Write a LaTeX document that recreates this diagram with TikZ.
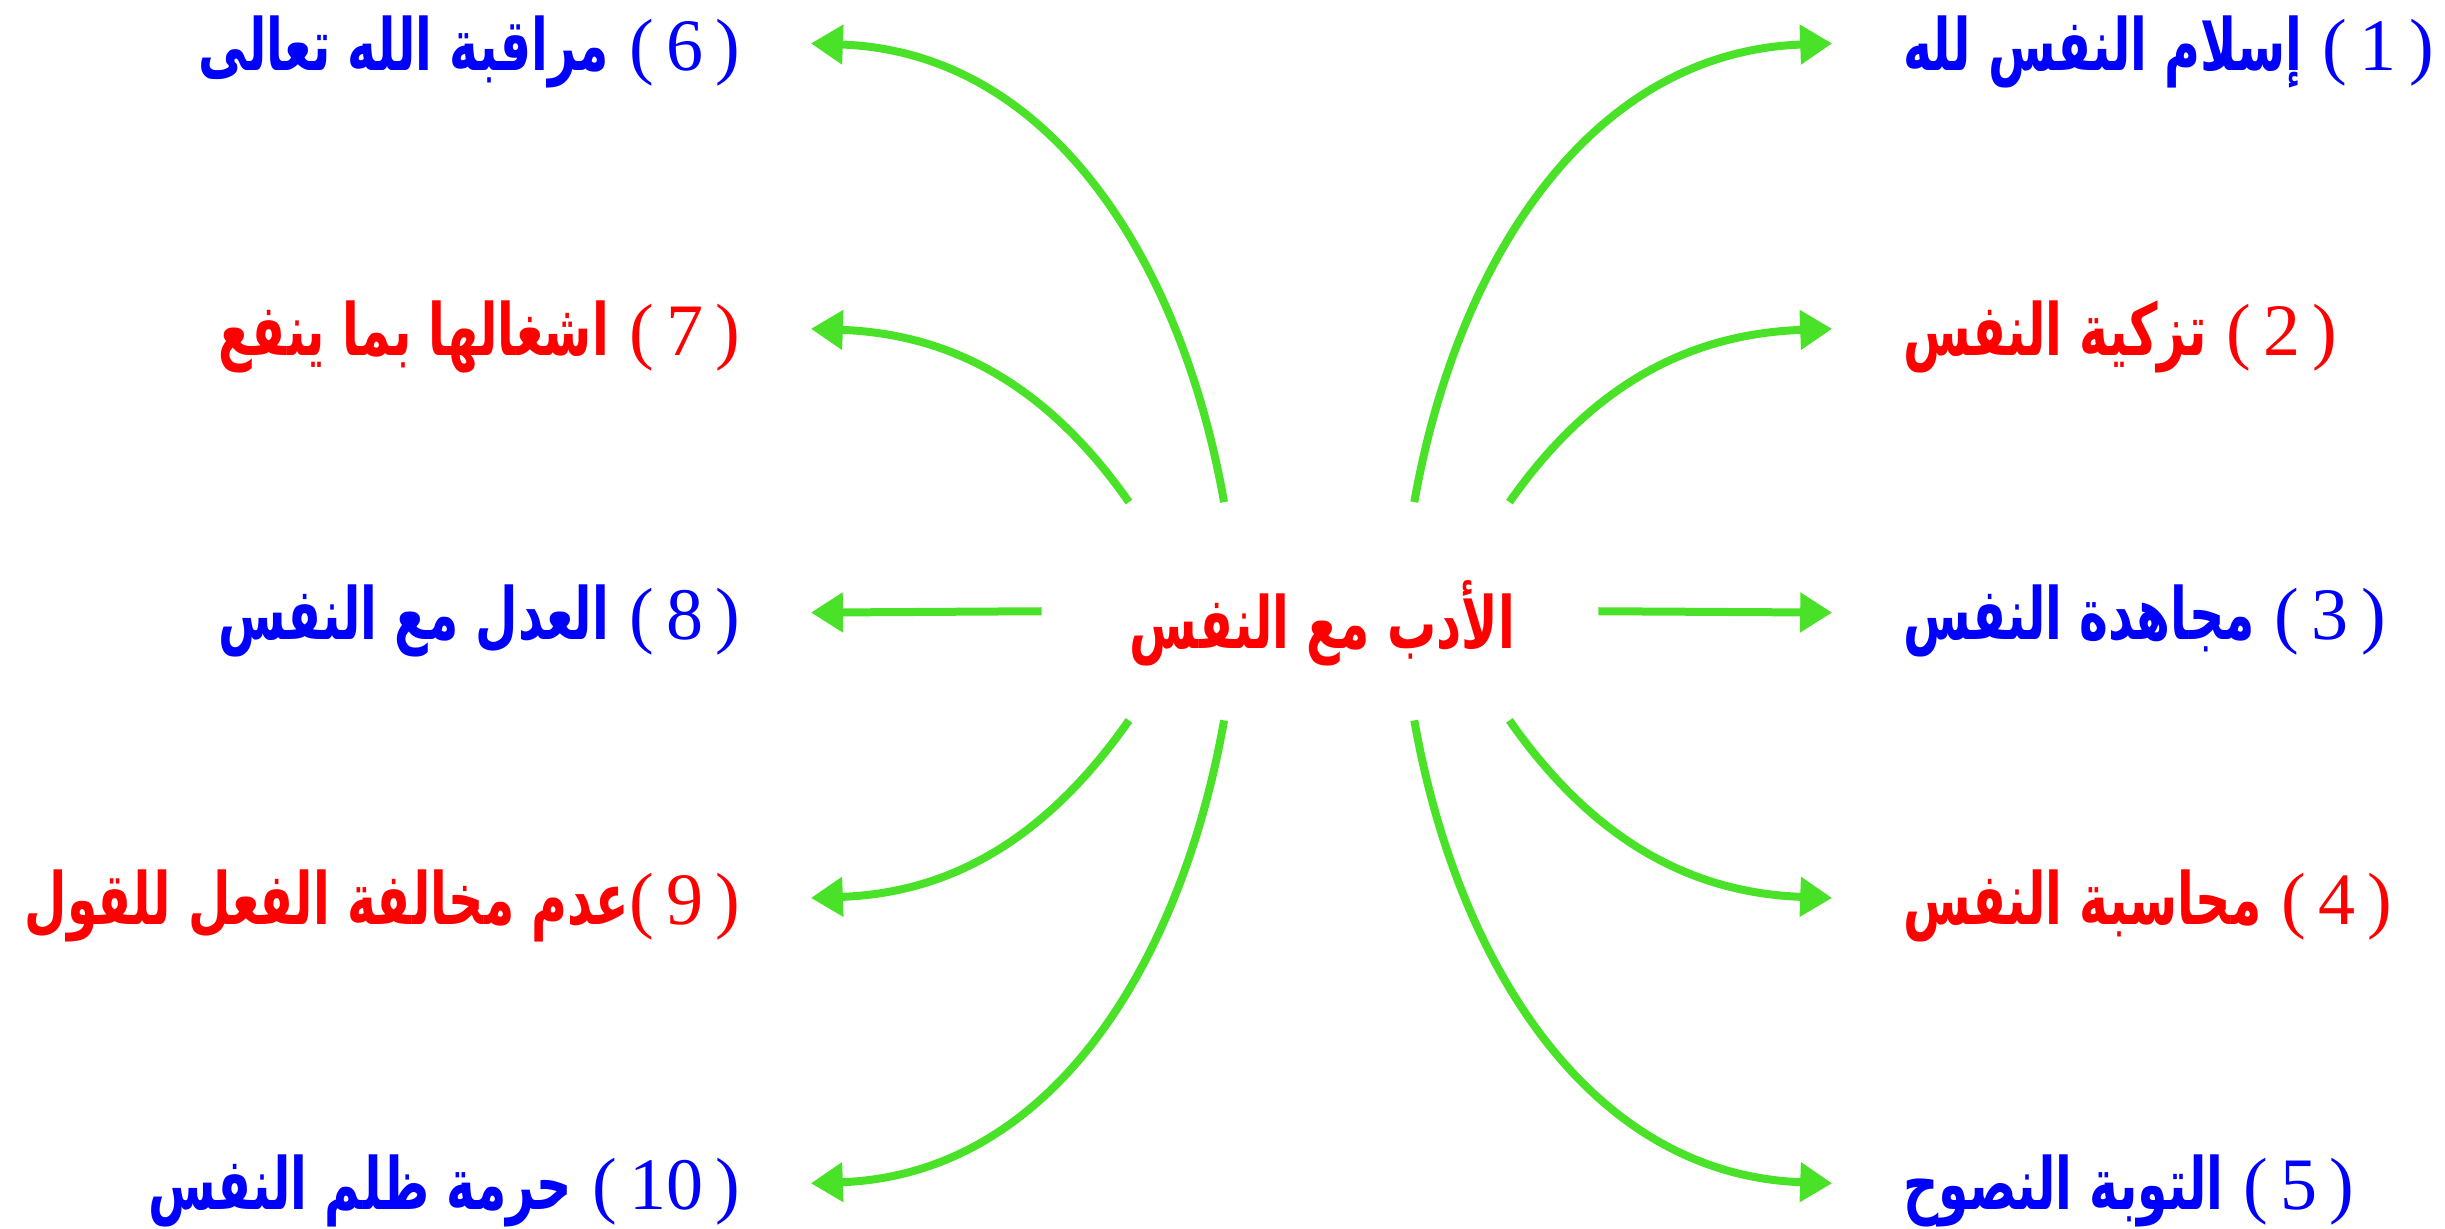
\documentclass[tikz,border=0pt]{standalone}
\usepackage{fontspec}
\usepackage{graphicx}
\usetikzlibrary{arrows.meta}
\TeXXeTstate=1
\newfontfamily\arabicfont[Script=Arabic]{DejaVu Sans}
\newfontfamily\numfont{Liberation Serif}
\definecolor{arrgreen}{RGB}{74,226,40}
\definecolor{lblue}{RGB}{0,0,255}
\definecolor{lred}{RGB}{255,0,0}
\newcommand\arb[1]{\scalebox{0.68}[1]{\arabicfont\bfseries\fontsize{18}{20}\selectfont\beginR #1\endR}}
\newcommand\lnum[1]{{\numfont\fontsize{18.5}{20}\selectfont(\,#1\,)}}
\begin{document}
\begin{tikzpicture}[x=0.38983pt,y=0.38983pt,
  lab/.style={inner xsep=17.5pt,inner ysep=0pt},
  rlab/.style={lab,anchor=west},
  llab/.style={lab,anchor=east},
  arr/.style={draw=arrgreen,line width=2pt,-{Triangle[length=8pt,width=9.5pt]}}]
\useasboundingbox[fill=white] (0,0) rectangle (1568,788);
\node[text=lred,inner sep=0pt] (c) at (848,388) {\arb{الأدب مع النفس}};
% start coordinates
\coordinate (s1) at (907,466);
\coordinate (s2) at (968,466);
\coordinate (s3) at (1025,396);
\coordinate (s4) at (968,326);
\coordinate (s5) at (907,326);
\coordinate (s6) at (785,466);
\coordinate (s7) at (724,466);
\coordinate (s8) at (668,396);
\coordinate (s9) at (724,326);
\coordinate (s10) at (785,326);
% right labels
\node[rlab,text=lblue] (l1) at (1175,755) {\arb{إسلام النفس لله}\hspace{5pt}\lnum{1}};
\node[rlab,text=lred]  (l2) at (1175,572) {\arb{تزكية النفس}\hspace{5pt}\lnum{2}};
\node[rlab,text=lblue] (l3) at (1175,390) {\arb{مجاهدة النفس}\hspace{5pt}\lnum{3}};
\node[rlab,text=lred]  (l4) at (1175,207) {\arb{محاسبة النفس}\hspace{5pt}\lnum{4}};
\node[rlab,text=lblue] (l5) at (1175,24)  {\arb{التوبة النصوح}\hspace{5pt}\lnum{5}};
% left labels
\node[llab,text=lblue] (l6) at (520,755)  {\arb{مراقبة الله تعالى}\hspace{5pt}\lnum{6}};
\node[llab,text=lred]  (l7) at (520,572)  {\arb{اشغالها بما ينفع}\hspace{5pt}\lnum{7}};
\node[llab,text=lblue] (l8) at (520,390)  {\arb{العدل مع النفس}\hspace{5pt}\lnum{8}};
\node[llab,text=lred]  (l9) at (520,207)  {\arb{عدم مخالفة الفعل للقول}\lnum{9}};
\node[llab,text=lblue] (l10) at (520,24)  {\arb{حرمة ظلم النفس}\hspace{5pt}\lnum{10}};
% arrows right
\draw[arr] (s1) to[out=80,in=182] ([yshift=2pt]l1.west);
\draw[arr] (s2) to[out=55,in=182] ([yshift=2pt]l2.west);
\draw[arr] (s3) -- ([yshift=2pt]l3.west);
\draw[arr] (s4) to[out=-55,in=178] ([yshift=2pt]l4.west);
\draw[arr] (s5) to[out=-80,in=178] ([yshift=2pt]l5.west);
% arrows left
\draw[arr] (s6) to[out=100,in=-2] ([yshift=2pt]l6.east);
\draw[arr] (s7) to[out=125,in=-2] ([yshift=2pt]l7.east);
\draw[arr] (s8) -- ([yshift=2pt]l8.east);
\draw[arr] (s9) to[out=-125,in=2] ([yshift=2pt]l9.east);
\draw[arr] (s10) to[out=-100,in=2] ([yshift=2pt]l10.east);
\end{tikzpicture}
\end{document}
